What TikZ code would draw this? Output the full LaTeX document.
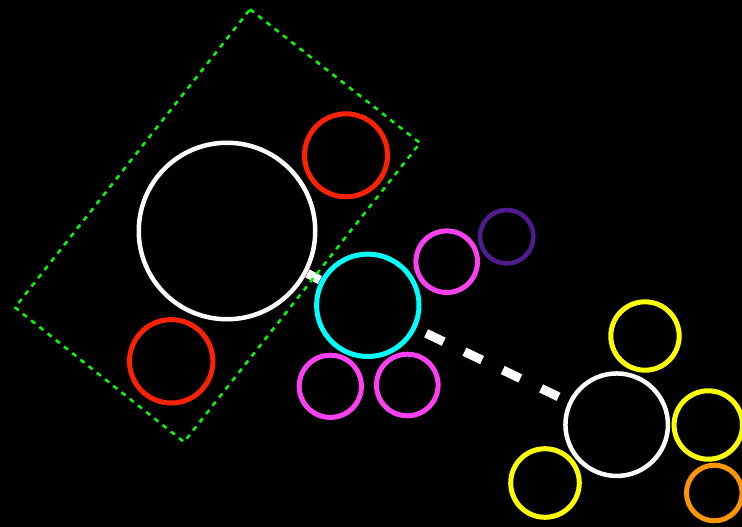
\documentclass[tikz,border=0pt]{standalone}
\begin{document}
\begin{tikzpicture}[x=1pt,y=-1pt,
  ring/.style n args={3}{circle, draw=#1, line width=#3, inner sep=0pt, minimum size=#2, fill=black},
  thickdash/.style={draw=white, line width=9pt, dash pattern=on 19.5pt off 23pt, shorten <=11pt, shorten >=11pt},
  thicksolid/.style={draw=white, line width=9pt, shorten <=0.5pt, shorten >=0.5pt},
  greenframe/.style={draw=gframe, line width=2.5pt, dash pattern=on 5pt off 5.5pt, line join=round}]
\definecolor{gframe}{RGB}{0,255,0}
\definecolor{cred}{RGB}{255,34,0}
\definecolor{cmag}{RGB}{255,64,240}
\definecolor{cpur}{RGB}{78,28,142}
\definecolor{cyel}{RGB}{255,255,0}
\definecolor{corg}{RGB}{255,150,0}
\definecolor{ccyan}{RGB}{0,255,255}
\fill[black] (0,0) rectangle (742,527);
\useasboundingbox (0,0) rectangle (742,527);
% nodes
\node[ring={white}{176.5pt}{4.5pt}] (bigW) at (227,231) {};
\node[ring={cred}{83pt}{5pt}] (redT) at (346,155.3) {};
\node[ring={cred}{83.4pt}{5pt}] (redB) at (171.2,361.3) {};
\node[ring={ccyan}{102.4pt}{5pt}] (cyan) at (367.8,305.3) {};
\node[ring={cmag}{61.6pt}{5pt}] (magT) at (446.7,261.7) {};
\node[ring={cmag}{62.2pt}{5pt}] (magBL) at (330.3,386.3) {};
\node[ring={cmag}{61.6pt}{5pt}] (magBR) at (407.3,385) {};
\node[ring={cpur}{53.5pt}{4.5pt}] (purple) at (506.7,236.7) {};
\node[ring={white}{102.5pt}{4.5pt}] (whiteR) at (616.7,424.7) {};
\node[ring={cyel}{68.4pt}{5pt}] (yelT) at (645,336) {};
\node[ring={cyel}{68.4pt}{5pt}] (yelR) at (708.3,425) {};
\node[ring={cyel}{68.6pt}{5pt}] (yelB) at (545,483) {};
\node[ring={corg}{55.6pt}{5pt}] (orange) at (714.3,493) {};
% connectors
\draw[thicksolid] (bigW) -- (cyan);
\draw[thickdash] (cyan) -- (whiteR);
% green dashed frame
\coordinate (gT) at (250,9.3);
\coordinate (gR) at (420,143);
\coordinate (gB) at (184,442);
\coordinate (gL) at (15,307.5);
\draw[greenframe] (gT) -- (gR) -- (gB) -- (gL) -- cycle;
\end{tikzpicture}
\end{document}
